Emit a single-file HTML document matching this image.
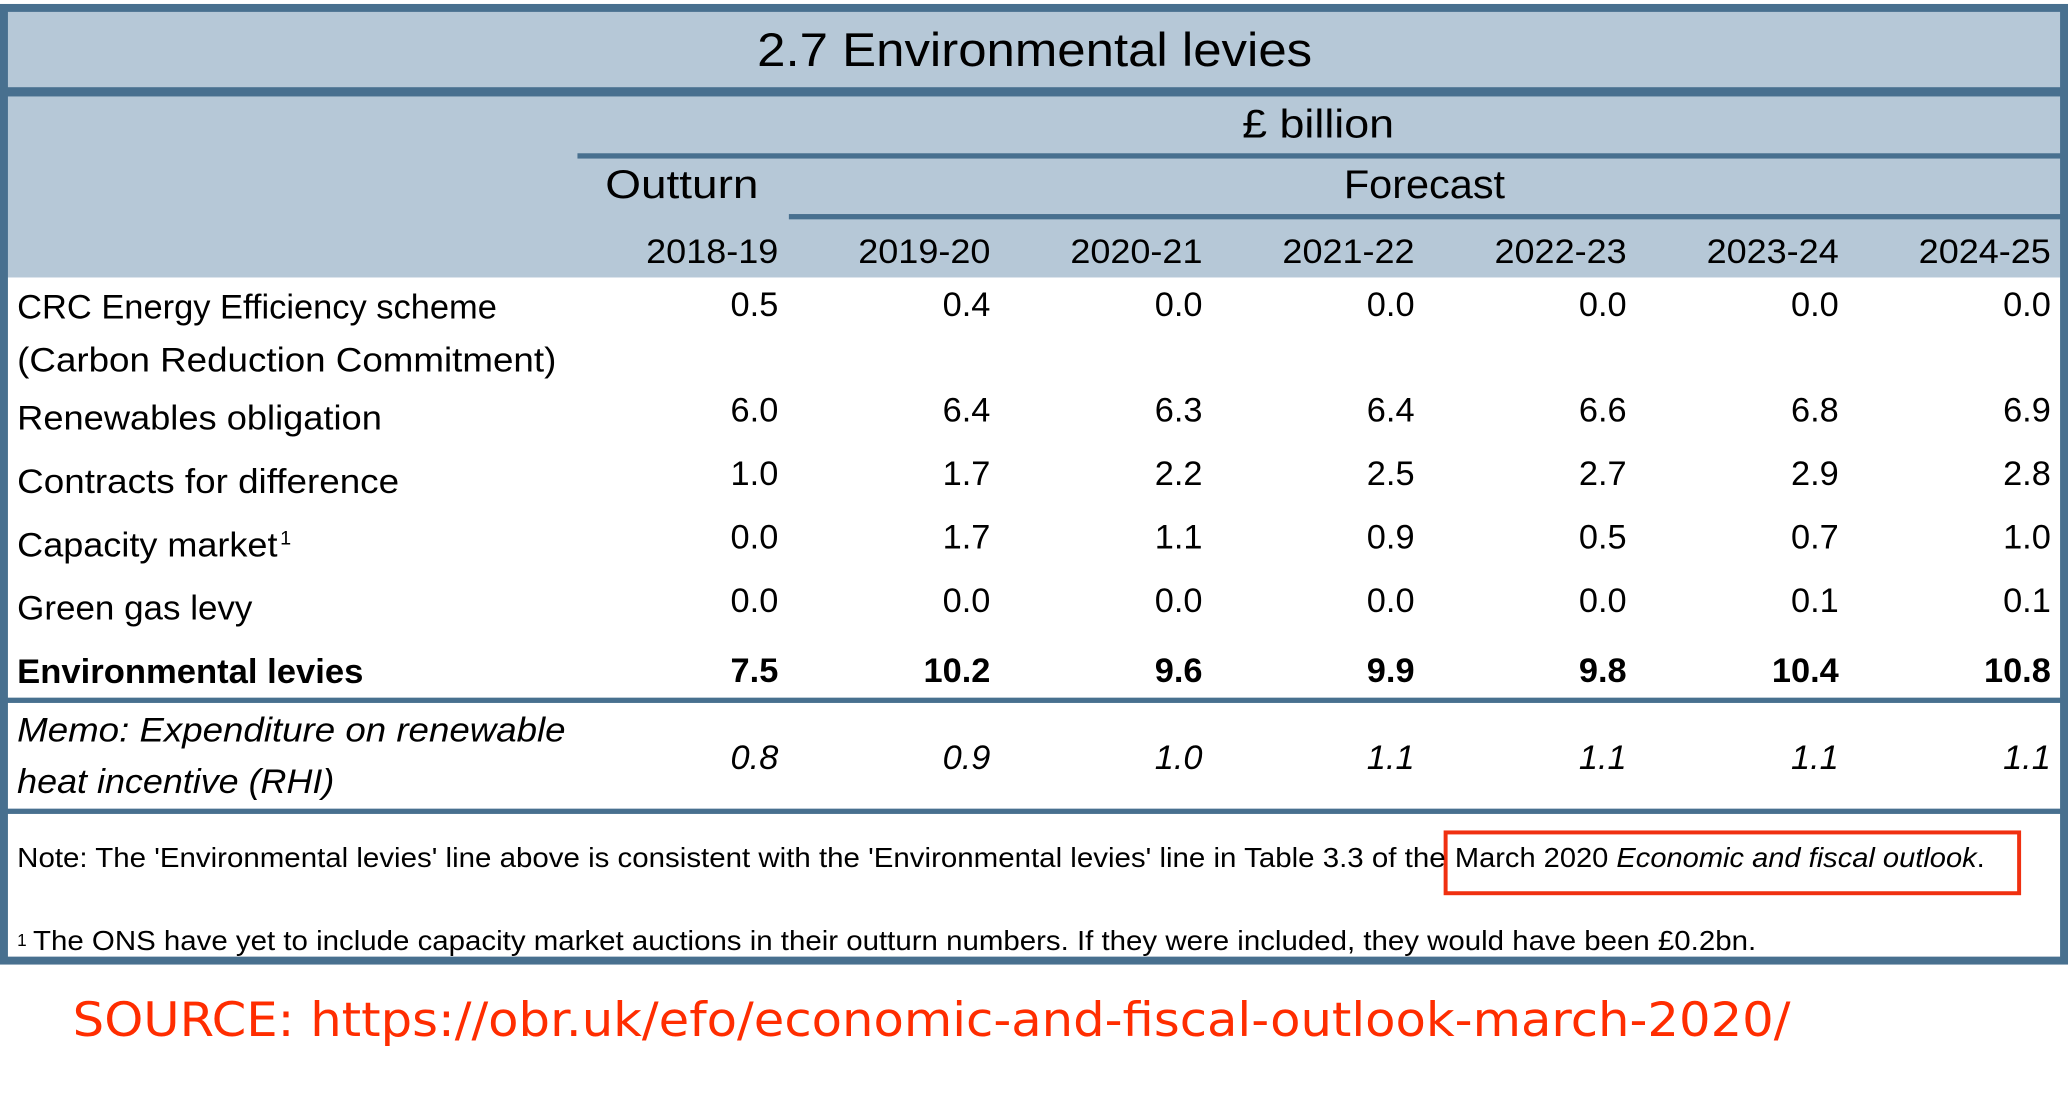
<!DOCTYPE html>
<html><head><meta charset="utf-8"><style>
html,body{margin:0;padding:0;background:#fff;}
svg{display:block;}
text{font-family:"Liberation Sans",sans-serif;fill:#000;}
</style></head><body>
<svg id="tbl" width="2068" height="1100" viewBox="0 0 1565 832.5" preserveAspectRatio="none" xmlns="http://www.w3.org/2000/svg">
<rect x="0" y="0" width="1565" height="833" fill="#fff"/>
<rect x="3" y="5" width="1559" height="63" fill="#b6c8d7"/>
<rect x="3" y="72" width="1559" height="138" fill="#b6c8d7"/>
<rect x="3" y="6" width="1559" height="721" fill="none" stroke="#48708f" stroke-width="6"/>
<rect x="3" y="66" width="1559" height="7" fill="#48708f"/>
<rect x="437" y="116" width="1125" height="4" fill="#48708f"/>
<rect x="597" y="162" width="965" height="4" fill="#48708f"/>
<rect x="3" y="528" width="1559" height="4" fill="#48708f"/>
<rect x="3" y="612" width="1559" height="4" fill="#48708f"/>
<text x="573" y="50" font-size="36" textLength="420" lengthAdjust="spacingAndGlyphs">2.7 Environmental levies</text>
<text x="940" y="104" font-size="30" textLength="115" lengthAdjust="spacingAndGlyphs">£ billion</text>
<text x="458" y="150" font-size="30" textLength="116" lengthAdjust="spacingAndGlyphs">Outturn</text>
<text x="1017" y="150" font-size="30" textLength="122" lengthAdjust="spacingAndGlyphs">Forecast</text>
<g id="cells"></g>
<rect x="1094" y="630" width="434" height="46" fill="none" stroke="#f03010" stroke-width="3"/>
<text x="13" y="656" font-size="21" textLength="1081" lengthAdjust="spacingAndGlyphs">Note: The 'Environmental levies' line above is consistent with the 'Environmental levies' line in Table 3.3 of the</text>
<text x="1101" y="656" font-size="21" textLength="401" lengthAdjust="spacingAndGlyphs">March 2020 <tspan font-style="italic">Economic and fiscal outlook</tspan>.</text>
<text x="13" y="716" font-size="13">1</text>
<text x="25" y="719" font-size="21" textLength="1304" lengthAdjust="spacingAndGlyphs">The ONS have yet to include capacity market auctions in their outturn numbers. If they were included, they would have been £0.2bn.</text>
<text x="55" y="784" font-size="36" style="fill:#ff2d00;font-family:'DejaVu Sans',sans-serif" textLength="1300" lengthAdjust="spacingAndGlyphs">SOURCE: https://obr.uk/efo/economic-and-fiscal-outlook-march-2020/</text>
</svg>
<script>
const years = ["2018-19","2019-20","2020-21","2021-22","2022-23","2023-24","2024-25"];
const crcValues = [0.5,0.4,0.0,0.0,0.0,0.0,0.0];
const renewablesValues = [6.0,6.4,6.3,6.4,6.6,6.8,6.9];
const cfdValues = [1.0,1.7,2.2,2.5,2.7,2.9,2.8];
const capacityValues = [0.0,1.7,1.1,0.9,0.5,0.7,1.0];
const greenGasValues = [0.0,0.0,0.0,0.0,0.0,0.1,0.1];
const totalValues = [7.5,10.2,9.6,9.9,9.8,10.4,10.8];
const rhiValues = [0.8,0.9,1.0,1.1,1.1,1.1,1.1];

const NS = "http://www.w3.org/2000/svg";
const g = document.getElementById("cells");
function colX(i){ return 589 + i * 160.5; }
function mk(txt, x, y, size, opts){
  const t = document.createElementNS(NS, "text");
  t.setAttribute("x", x); t.setAttribute("y", y);
  t.setAttribute("font-size", size);
  if (opts.anchor) t.setAttribute("text-anchor", opts.anchor);
  if (opts.bold) t.setAttribute("font-weight", "bold");
  if (opts.italic) t.setAttribute("font-style", "italic");
  if (opts.tl) { t.setAttribute("textLength", opts.tl); t.setAttribute("lengthAdjust", "spacingAndGlyphs"); }
  t.textContent = txt;
  g.appendChild(t);
  return t;
}
years.forEach((y, i) => {
  const t = mk(y, colX(i), 199, 26, {anchor: "end", tl: 100});
  
  
});
const rows = [
  {labels: [["CRC Energy Efficiency scheme", 241, 363], ["(Carbon Reduction Commitment)", 281, 408]], vals: crcValues, vy: 239, name: "crc-row"},
  {labels: [["Renewables obligation", 325, 276]], vals: renewablesValues, vy: 319, name: "renewables-row"},
  {labels: [["Contracts for difference", 373, 289]], vals: cfdValues, vy: 367, name: "cfd-row"},
  {labels: [["Capacity market", 421, 197]], vals: capacityValues, vy: 415, name: "capacity-row", sup: true},
  {labels: [["Green gas levy", 469, 178]], vals: greenGasValues, vy: 463, name: "green-gas-row"},
  {labels: [["Environmental levies", 517, 262]], vals: totalValues, vy: 516, name: "total-row", bold: true},
  {labels: [["Memo: Expenditure on renewable", 561, 415], ["heat incentive (RHI)", 600, 240]], vals: rhiValues, vy: 582, name: "rhi-row", italic: true}
];
rows.forEach(r => {
  r.labels.forEach(l => {
    const t = mk(l[0], 13, l[1], 26, {bold: r.bold, italic: r.italic, tl: l[2]});
    
    
  });
  if (r.sup) {
    const s = mk("1", 212, 412, 15, {});
    
    
  }
  r.vals.forEach((v, i) => {
    const t = mk(v.toFixed(1), colX(i), r.vy, 26, {anchor: "end", bold: r.bold, italic: r.italic});
    
    
  });
});
</script>
</body></html>
